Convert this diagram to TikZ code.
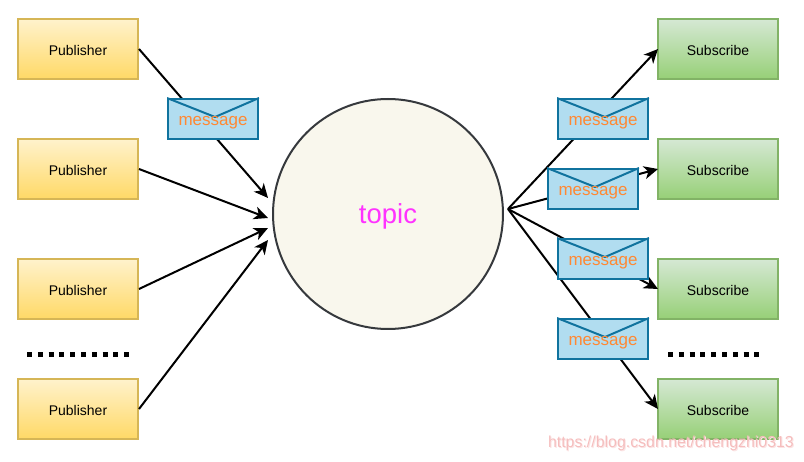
\documentclass[tikz,border=0pt]{standalone}
\usepackage{fontspec}
\setmainfont{Liberation Sans}
\usetikzlibrary{arrows.meta}
\definecolor{publine}{HTML}{D6B656}\definecolor{pubtop}{HTML}{FFF2CC}\definecolor{pubbot}{HTML}{FFD966}
\definecolor{subline}{HTML}{82B366}\definecolor{subtop}{HTML}{D5E8D4}\definecolor{subbot}{HTML}{97D077}
\definecolor{envline}{HTML}{10739E}\definecolor{envfill}{HTML}{B1DDF0}\definecolor{msgtext}{HTML}{FF8833}
\definecolor{topicfill}{HTML}{F9F7ED}\definecolor{topicline}{HTML}{36393D}\definecolor{topictext}{HTML}{FF33FF}
\definecolor{wmark}{HTML}{F5BDBD}\definecolor{wshadow}{HTML}{FBE4E4}
\tikzset{
  pubbox/.style={draw=publine,line width=2pt,top color=pubtop,bottom color=pubbot,minimum width=120pt,minimum height=60pt,inner sep=0pt,font=\fontsize{14}{16}\selectfont,text=black},
  subbox/.style={draw=subline,line width=2pt,top color=subtop,bottom color=subbot,minimum width=120pt,minimum height=60pt,inner sep=0pt,font=\fontsize{14}{16}\selectfont,text=black},
  envbox/.style={draw=envline,line width=2pt,fill=envfill,minimum width=90pt,minimum height=40pt,inner sep=0pt},
  msgtxt/.style={font=\fontsize{17}{19}\selectfont,text=msgtext,inner sep=0pt,yshift=-4pt},
  link/.style={draw=black,line width=2pt,-{Stealth[length=14pt,width=13pt,inset=4pt]}},
  dotline/.style={draw=black,line width=5pt,dash pattern=on 5pt off 5.8pt}
}
\newcommand{\envnode}[3]{%
  \node[envbox] (#1) at (#2) {};
  \coordinate (#1v) at ([yshift=2pt,xshift=2pt]#1.center);
  \begin{scope}
    \clip (#1.north west) rectangle (#1.south east);
    \draw[envline,line width=2pt] (#1.north west) -- (#1v) -- (#1.north east);
  \end{scope}
  \node[msgtxt] (#1t) at (#1.center) {#3};
}
\newcommand{\boxtxt}[1]{\raisebox{0pt}[\dimexpr\height+2pt\relax]{#1}}
\begin{document}
\begin{tikzpicture}[x=1pt,y=-1pt]
\useasboundingbox (0,0) rectangle (804,462);
\node[pubbox] (p1) at (78,49) {\boxtxt{Publisher}};
\node[pubbox] (p2) at (78,169) {\boxtxt{Publisher}};
\node[pubbox] (p3) at (78,289) {\boxtxt{Publisher}};
\node[pubbox] (p4) at (78,409) {\boxtxt{Publisher}};
\node[subbox] (s1) at (718,49) {\boxtxt{Subscribe}};
\node[subbox] (s2) at (718,169) {\boxtxt{Subscribe}};
\node[subbox] (s3) at (718,289) {\boxtxt{Subscribe}};
\node[subbox] (s4) at (718,409) {\boxtxt{Subscribe}};
\node[circle,draw=topicline,fill=topicfill,line width=2pt,minimum size=230pt,inner sep=0pt] (topic) at (388,214) {};
\node[text=topictext,font=\fontsize{27.5}{30}\selectfont,inner sep=0pt,yshift=-2pt] (topict) at (topic.center) {topic};
\coordinate (in1) at (268,198);
\coordinate (in2) at (268,218);
\coordinate (in3) at (268,228);
\coordinate (in4) at (268,240);
\coordinate (hub) at (508,209);
\draw[link] (p1.east) -- (in1);
\draw[link] (p2.east) -- (in2);
\draw[link] (p3.east) -- (in3);
\draw[link] (p4.east) -- (in4);
\draw[link] (hub) -- ([xshift=1pt]s1.west);
\draw[link] (hub) -- ([xshift=1pt]s2.west);
\draw[link] (hub) -- ([xshift=1pt]s3.west);
\draw[link] (hub) -- ([xshift=1pt]s4.west);
\envnode{m0}{213,119}{message}
\envnode{m1}{603,119}{message}
\envnode{m2}{593,189}{message}
\envnode{m3}{603,259}{message}
\envnode{m4}{603,339}{message}
\coordinate (dl0) at (27,355);
\coordinate (dl1) at (133,355);
\coordinate (dr0) at (668,355);
\coordinate (dr1) at (762,355);
\draw[dotline] (dl0) -- (dl1);
\draw[dotline] (dr0) -- (dr1);
\node[text=wshadow,font=\fontsize{15.9}{18}\selectfont,anchor=east,inner sep=0pt] (ws) at (795,444) {https://blog.csdn.net/chengzhi0313};
\node[text=wmark,font=\fontsize{15.9}{18}\selectfont,anchor=east,inner sep=0pt] (wm) at (794,443) {https://blog.csdn.net/chengzhi0313};
\end{tikzpicture}
\end{document}
